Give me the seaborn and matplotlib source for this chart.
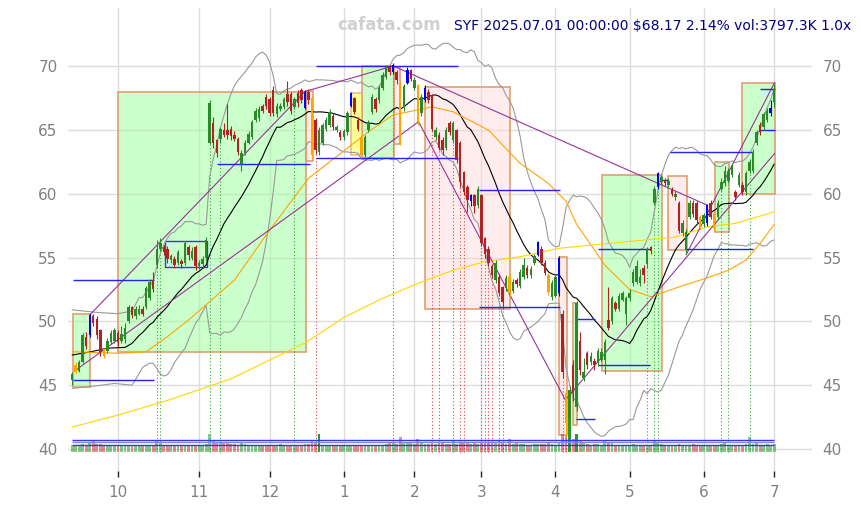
import numpy as np
import pandas as pd
import matplotlib
matplotlib.use("Agg")
import matplotlib.pyplot as plt
import seaborn as sns
from matplotlib.patches import Rectangle

# trading days shown
holidays = ["2024-11-28", "2024-12-25", "2025-01-01", "2025-01-09", "2025-01-20",
            "2025-02-17", "2025-04-18", "2025-05-26", "2025-06-19"]
dates = pd.bdate_range("2024-09-12", "2025-07-01", freq="C", holidays=holidays)

opens = [45.4, 46.0, 46.1, 46.8, 48.8, 48.9, 50.4, 50.2, 49.3, 47.8,
         47.7, 48.4, 48.5, 49.1, 48.5, 48.6, 50.0, 51.1, 50.4, 50.6,
         51.0, 51.1, 51.8, 53.2, 54.4, 55.7, 55.8, 55.7, 54.8, 54.9,
         54.6, 54.7, 54.6, 55.8, 55.0, 55.8, 54.3, 54.5, 55.0, 64.0,
         65.5, 64.2, 64.3, 65.0, 65.0, 65.1, 64.6, 64.3, 62.3, 63.2,
         64.0, 64.4, 65.8, 65.9, 66.9, 67.6, 67.4, 68.1, 66.2, 66.6,
         66.8, 67.8, 67.8, 66.8, 67.9, 68.1, 66.7, 68.0, 67.5, 65.8,
         63.3, 64.0, 65.1, 65.4, 66.1, 65.0, 64.8, 64.4, 64.8, 66.9,
         67.5, 65.8, 64.4, 63.0, 65.0, 66.4, 67.4, 67.3, 68.3, 69.1,
         69.9, 69.5, 69.5, 68.7, 66.7, 68.7, 69.7, 68.3, 68.5, 66.3,
         67.3, 68.0, 67.7, 64.4, 64.6, 64.2, 63.6, 65.5, 64.2, 65.0,
         64.0, 61.7, 60.5, 59.4, 59.9, 59.1, 59.9, 56.5, 55.7, 54.3,
         53.2, 53.5, 52.7, 52.6, 53.5, 52.4, 53.2, 52.8, 53.5, 54.2,
         53.6, 54.6, 55.2, 55.7, 54.6, 53.6, 51.9, 52.0, 52.2, 50.6,
         44.4, 40.8, 46.6, 43.3, 48.5, 45.6, 47.5, 46.8, 46.9, 46.7,
         47.0, 47.0, 50.1, 50.0, 51.4, 51.0, 51.7, 50.6, 51.8, 53.0,
         53.1, 53.0, 54.2, 54.5, 55.8, 59.3, 60.5, 60.9, 61.1, 60.7,
         60.3, 59.7, 59.3, 56.9, 55.6, 58.2, 59.3, 59.3, 58.2, 57.6,
         57.7, 59.3, 58.5, 58.2, 60.4, 60.8, 61.0, 61.5, 60.1, 60.7,
         60.7, 60.1, 61.8, 61.8, 64.0, 65.4, 65.2, 65.8, 66.3, 67.2]
closes = [45.9, 46.6, 46.8, 48.9, 48.1, 50.5, 49.9, 48.9, 47.6, 47.3,
          48.5, 49.1, 49.3, 48.4, 49.0, 49.5, 51.1, 50.5, 51.0, 51.0,
          50.6, 52.6, 53.1, 52.5, 55.7, 56.1, 55.4, 54.9, 55.1, 54.4,
          55.4, 54.5, 56.1, 55.2, 55.5, 54.3, 54.6, 54.9, 56.4, 67.1,
          64.0, 63.2, 65.1, 64.6, 64.6, 64.5, 64.3, 63.3, 63.2, 64.0,
          64.7, 65.6, 66.5, 66.6, 66.5, 66.9, 66.3, 66.3, 66.9, 66.9,
          67.4, 67.2, 66.5, 67.4, 67.1, 67.3, 68.0, 67.3, 63.0, 63.4,
          65.0, 65.4, 65.8, 66.4, 65.2, 65.2, 64.4, 64.9, 66.3, 67.9,
          66.4, 65.1, 63.0, 64.4, 65.6, 67.6, 66.6, 68.3, 69.3, 69.9,
          69.5, 70.1, 68.9, 64.0, 68.4, 69.7, 69.0, 68.9, 65.6, 67.6,
          68.3, 67.3, 65.1, 65.0, 63.6, 63.4, 65.0, 64.8, 65.5, 62.6,
          60.9, 60.1, 59.5, 59.9, 59.0, 60.4, 56.1, 55.3, 54.6, 53.6,
          54.6, 52.2, 51.5, 53.4, 52.2, 53.1, 52.9, 53.9, 54.4, 53.6,
          54.1, 55.1, 56.2, 54.6, 53.8, 52.3, 53.0, 53.5, 55.0, 46.0,
          42.0, 44.6, 44.4, 51.4, 46.2, 46.0, 46.6, 47.3, 46.6, 47.7,
          47.6, 48.4, 49.5, 51.8, 51.0, 52.0, 52.2, 51.8, 52.2, 53.9,
          54.3, 53.5, 53.6, 55.6, 55.5, 60.4, 61.6, 61.3, 60.8, 61.0,
          60.0, 60.0, 57.1, 57.7, 57.0, 59.3, 58.4, 57.9, 57.4, 58.3,
          59.1, 58.2, 57.3, 59.3, 60.9, 61.8, 61.8, 62.1, 59.7, 61.5,
          60.1, 61.6, 62.5, 63.3, 64.8, 64.8, 66.2, 66.5, 66.74, 68.17]
highs = [46.0, 46.8, 47.0, 49.1, 49.2, 50.6, 50.6, 50.4, 49.4, 47.9,
         48.7, 49.3, 49.5, 49.3, 49.6, 49.9, 51.3, 51.2, 51.2, 51.3,
         51.2, 52.8, 53.3, 53.9, 56.4, 56.5, 56.0, 55.9, 55.3, 55.1,
         55.6, 54.9, 56.3, 56.0, 55.8, 56.0, 54.8, 55.1, 56.6, 67.3,
         66.0, 64.3, 65.2, 65.5, 67.0, 65.3, 64.9, 64.4, 63.4, 64.2,
         64.9, 65.8, 66.7, 66.9, 67.0, 67.8, 67.6, 68.4, 67.1, 67.1,
         67.6, 68.8, 68.0, 67.6, 68.1, 68.3, 68.1, 68.2, 67.6, 65.9,
         65.2, 65.5, 66.0, 66.6, 66.3, 65.4, 65.0, 65.1, 66.5, 68.0,
         67.6, 66.0, 64.6, 64.6, 65.8, 67.8, 67.6, 68.5, 69.5, 70.1,
         70.1, 70.2, 69.7, 68.8, 68.6, 69.9, 69.8, 69.1, 68.6, 67.8,
         68.5, 68.2, 67.8, 65.2, 64.8, 64.4, 65.2, 65.7, 65.7, 65.1,
         64.1, 61.8, 60.7, 60.0, 60.0, 60.6, 60.0, 56.6, 55.9, 54.5,
         54.8, 53.7, 52.8, 53.6, 53.7, 53.3, 53.4, 54.1, 55.0, 54.4,
         54.3, 55.3, 56.3, 55.9, 54.8, 53.8, 53.2, 53.7, 55.1, 50.9,
         44.6, 44.9, 47.0, 51.6, 49.2, 47.1, 47.7, 47.6, 47.1, 47.9,
         47.9, 48.6, 52.7, 52.0, 51.6, 52.2, 52.4, 52.0, 52.5, 54.1,
         54.8, 54.1, 54.4, 55.8, 55.9, 60.6, 61.7, 61.5, 61.2, 61.2,
         60.5, 60.2, 59.4, 57.9, 57.2, 59.5, 59.5, 59.4, 58.3, 58.5,
         59.2, 59.5, 58.6, 59.5, 61.2, 62.2, 62.0, 62.4, 60.3, 61.7,
         60.9, 61.8, 62.7, 63.5, 65.0, 65.6, 66.4, 66.7, 67.3, 68.6]
lows = [45.0, 45.9, 46.0, 46.7, 47.8, 48.8, 49.6, 48.6, 47.3, 47.1,
        47.5, 48.2, 48.3, 48.1, 48.3, 48.3, 49.9, 50.3, 50.2, 50.5,
        50.4, 51.0, 51.7, 52.3, 54.2, 55.5, 55.2, 54.6, 54.6, 54.2,
        54.4, 54.2, 54.4, 54.8, 54.8, 54.0, 54.1, 54.2, 54.6, 63.9,
        63.6, 62.9, 64.0, 64.4, 64.3, 64.2, 64.1, 63.0, 61.8, 63.0,
        63.9, 64.3, 65.6, 65.7, 66.3, 66.6, 66.1, 66.1, 66.0, 66.5,
        66.6, 66.9, 66.2, 66.6, 66.8, 67.1, 66.6, 67.0, 62.8, 63.1,
        63.0, 63.8, 64.9, 65.2, 65.0, 64.8, 64.2, 64.2, 64.6, 66.8,
        66.2, 64.9, 62.8, 62.7, 64.8, 66.2, 66.4, 67.1, 68.1, 69.0,
        69.3, 69.4, 68.6, 63.8, 66.5, 68.6, 68.8, 68.1, 65.4, 66.1,
        67.2, 67.1, 64.9, 64.2, 63.4, 63.0, 63.4, 64.6, 64.0, 62.4,
        60.5, 59.9, 58.6, 59.0, 58.5, 58.9, 55.9, 55.0, 54.3, 53.4,
        53.0, 52.0, 51.0, 52.4, 52.0, 52.2, 52.7, 52.6, 53.3, 53.4,
        53.4, 54.4, 55.1, 54.4, 53.6, 52.1, 51.7, 51.9, 52.0, 45.6,
        41.0, 40.2, 43.8, 43.0, 45.8, 45.3, 46.3, 46.6, 46.2, 46.5,
        46.8, 45.9, 49.3, 49.8, 50.8, 50.8, 51.6, 49.7, 51.6, 52.8,
        52.9, 52.8, 53.0, 54.2, 55.3, 59.1, 60.4, 60.7, 60.6, 60.5,
        59.8, 59.5, 56.9, 56.7, 55.3, 58.0, 58.2, 57.7, 57.2, 57.4,
        57.5, 58.0, 57.1, 58.0, 60.2, 60.6, 60.8, 61.3, 59.5, 60.5,
        59.9, 59.9, 61.6, 61.6, 63.8, 64.6, 65.0, 65.6, 66.1, 66.8]
volumes = [3400, 3100, 3300, 3600, 3500, 4300, 6000, 3900, 3700, 3200,
           3000, 2900, 2800, 3100, 2900, 3000, 3400, 3000, 2800, 2900,
           3200, 3100, 2900, 3000, 5300, 4200, 3400, 3200, 2900, 3100,
           2800, 3200, 3500, 3000, 3300, 3400, 3100, 2900, 3600, 8500,
           5600, 4500, 4400, 4900, 4400, 4000, 3600, 3500, 4500, 3600,
           3300, 3400, 3100, 3200, 3400, 3500, 3300, 3100, 3000, 3600,
           3200, 3300, 3400, 3000, 3100, 3300, 3600, 3700, 5200, 4600,
           8700, 3300, 2800, 2900, 3100, 2800, 2900, 3200, 3000, 3300,
           3300, 3400, 3500, 3100, 3000, 3400, 3300, 3100, 3200, 3700,
           4100, 4400, 4000, 7000, 5000, 4300, 4100, 3600, 6200, 4200,
           3900, 3600, 4700, 4000, 4900, 4300, 3800, 3600, 5400, 4000,
           4600, 4200, 4100, 3800, 4300, 4000, 5000, 4400, 4300, 4600,
           4200, 5700, 4800, 4000, 6200, 4000, 4400, 3900, 3800, 3500,
           3300, 3600, 3900, 3800, 3700, 4400, 3700, 3500, 4300, 8700,
           7500, 16000, 6500, 8700, 5400, 4500, 4000, 3500, 3800, 3600,
           3400, 6000, 4300, 4200, 3400, 3300, 3200, 3100, 3300, 3600,
           3500, 3000, 3100, 3200, 3400, 5200, 4500, 3800, 3500, 3200,
           3300, 3000, 3900, 3500, 3400, 3200, 3600, 3300, 3000, 3100,
           3400, 3200, 3300, 3300, 3600, 4100, 3500, 3200, 3400, 3000,
           3100, 3600, 7300, 3800, 4200, 3400, 3200, 3600, 3300, 3797.3]
heavy_vol = [70, 141, 143]
blue_bars = [5, 66, 79, 91, 95, 100, 113, 132, 138, 166, 180, 198]
orange_bars = [1, 9, 68, 82, 93, 98, 124, 135, 140, 178, 182]

# lines (bar index, price)
ma20_head_idx = [0, 5, 10, 15, 17]
ma20_head = [47.36, 47.6, 47.9, 47.96, 48.28]
bb_up_head_idx = [0, 7, 13, 17]
bb_up_head = [50.9, 50.7, 50.6, 50.8]
bb_dn_head_idx = [0, 7, 12, 17]
bb_dn_head = [44.75, 44.95, 45.14, 45.0]
ma_orange_idx = [0, 13, 21, 27, 33, 46, 56, 67, 84, 91, 102, 108, 118, 127, 135,
                 140, 143, 151, 158, 164, 172, 180, 186, 191, 195, 199]
ma_orange = [47.62, 47.5, 47.62, 48.8, 50.1, 53.23, 57.15, 61.2, 64.85, 66.16, 66.8,
             66.41, 64.98, 62.37, 60.8, 59.4, 57.6, 54.4, 52.5, 51.92, 52.7, 53.4,
             54.0, 54.8, 56.1, 57.6]
ma_yellow_idx = [0, 13, 27, 33, 45, 56, 66, 77, 88, 98, 108, 117, 127, 138, 152,
                 171, 180, 188, 199]
ma_yellow = [41.72, 42.66, 43.8, 44.36, 45.5, 46.97, 48.3, 50.3, 51.8, 52.97, 54.0,
             54.67, 55.06, 55.72, 56.1, 56.6, 57.4, 57.67, 58.58]

# zones: start, end, low, high
green_boxes = [(0.3, 5.2, 44.83, 50.55), (13.1, 66.2, 47.57, 68.0), (82.1, 91.1, 62.8, 70.0),
               (150.2, 167.2, 46.1, 61.5), (182.1, 186.1, 56.97, 62.45),
               (190.0, 199.1, 60.0, 68.7), (142.1, 143.2, 41.9, 51.4)]
pink_boxes = [(66.2, 68.2, 62.57, 68.05), (91.2, 93.0, 63.9, 69.9), (100.1, 124.0, 51.0, 68.37),
              (138.0, 140.2, 41.1, 55.06), (169.0, 174.3, 55.6, 61.4)]
yellow_boxes = [(79.0, 82.1, 63.0, 67.85)]
blue_frames = [(26.2, 38.2, 54.27, 56.3)]
levels = [(0.3, 23.3, 53.2), (0.3, 23.3, 45.38), (41.0, 67.4, 62.3), (69.2, 109.3, 70.0),
          (69.2, 109.3, 62.8), (115.2, 138.3, 60.3), (115.2, 138.3, 51.1),
          (149.0, 163.8, 55.7), (149.0, 163.8, 46.6), (142.9, 148.1, 50.16),
          (142.9, 148.1, 42.35), (167.0, 169.0, 61.1), (169.5, 193.0, 63.23),
          (174.0, 193.0, 55.63), (195.1, 199.1, 68.17), (195.1, 199.1, 64.96)]
trend_a_idx = [5, 66, 91, 180]
trend_a = [50.5, 68.0, 70.0, 59.1]
trend_b_idx = [1.1, 98.2, 139.8, 199.1]
trend_b = [46.19, 65.63, 43.84, 63.15]
trend_c_idx = [174, 199.1]
trend_c = [55.2, 68.7]
green_marks = [24, 25, 39, 42, 63, 91, 163, 165, 166, 184, 186, 192]
red_marks = [69, 102, 104, 108, 110, 111, 116, 117, 118, 119, 121, 122, 139, 140]
vol_levels = [5760, 4630, 3300]

GREEN, RED = "#2a8a2a", "#b22222"

opens, closes = np.array(opens), np.array(closes)
highs, lows = np.array(highs), np.array(lows)
x = np.arange(len(dates))

sns.set_style("whitegrid")
fig = plt.figure(figsize=(8.61, 5.05), dpi=100)
ax = fig.add_axes([68 / 861, 34 / 505, 744 / 861, 463 / 505])
ax.set_xlim(-1.16, 209.7)
ax.set_ylim(38.28, 74.54)
ax.grid(True, color="#dddddd", linewidth=1)
for s in ax.spines.values():
    s.set_visible(False)

# zones
for x0, x1, lo, hi in green_boxes:
    ax.add_patch(Rectangle((x0, lo), x1 - x0, hi - lo, facecolor="#99ff99", alpha=0.5,
                           edgecolor="none", zorder=1))
    ax.add_patch(Rectangle((x0, lo), x1 - x0, hi - lo, facecolor="none",
                           edgecolor="#e0a070", linewidth=1.2, zorder=1.1))
for x0, x1, lo, hi in pink_boxes:
    ax.add_patch(Rectangle((x0, lo), x1 - x0, hi - lo, facecolor="#ffd8d8", alpha=0.45,
                           edgecolor="none", zorder=1))
    ax.add_patch(Rectangle((x0, lo), x1 - x0, hi - lo, facecolor="none",
                           edgecolor="#e0a070", linewidth=1.2, zorder=1.1))
for x0, x1, lo, hi in yellow_boxes:
    ax.add_patch(Rectangle((x0, lo), x1 - x0, hi - lo, facecolor="#ffff66", alpha=0.7,
                           edgecolor="#e0a070", linewidth=1.2, zorder=1.1))
for x0, x1, lo, hi in blue_frames:
    ax.add_patch(Rectangle((x0, lo), x1 - x0, hi - lo, facecolor="none",
                           edgecolor="#3333ff", linewidth=1, zorder=2))

# signal marks
ax.vlines(green_marks, 39.8, lows[green_marks], colors="#33aa33", linestyles=(0, (1, 2)),
          linewidth=0.8, zorder=2)
ax.vlines(red_marks, 39.8, lows[red_marks], colors="#dd4444", linestyles=(0, (1, 2)),
          linewidth=0.8, zorder=2)

# moving averages and bands
cl = pd.Series(closes)
ma20 = cl.rolling(20).mean()
sd20 = cl.rolling(20).std(ddof=0)
tail = x >= 19
sns.lineplot(x=list(ma20_head_idx) + list(x[tail]), y=list(ma20_head) + list(ma20[tail]),
             ax=ax, color="black", linewidth=0.8, zorder=3)
sns.lineplot(x=list(bb_up_head_idx) + list(x[tail]),
             y=list(bb_up_head) + list((ma20 + 2 * sd20)[tail]),
             ax=ax, color="#999999", linewidth=0.8, zorder=3)
sns.lineplot(x=list(bb_dn_head_idx) + list(x[tail]),
             y=list(bb_dn_head) + list((ma20 - 2 * sd20)[tail]),
             ax=ax, color="#999999", linewidth=0.8, zorder=3)
sns.lineplot(x=ma_orange_idx, y=ma_orange, ax=ax, color="#ffa500", linewidth=0.8, zorder=3)
sns.lineplot(x=ma_yellow_idx, y=ma_yellow, ax=ax, color="#ffd700", linewidth=0.8, zorder=3)

# trend lines and levels
for tx, ty in [(trend_a_idx, trend_a), (trend_b_idx, trend_b), (trend_c_idx, trend_c)]:
    ax.plot(tx, ty, color="#993399", linewidth=0.8, zorder=3)
for x0, x1, p in levels:
    ax.hlines(p, x0, x1, colors="#2222ff", linewidth=1, zorder=3)

# candles
cols = np.where(closes >= opens, GREEN, RED).astype(object)
cols[blue_bars] = "#0000ff"
cols[orange_bars] = "#ffa500"
ax.vlines(x, lows, highs, colors=list(cols), linewidth=0.8, zorder=4)
ax.bar(x, np.maximum(np.abs(closes - opens), 0.06), bottom=np.minimum(opens, closes),
       width=0.7, color=list(cols), linewidth=0, zorder=5)

# volume
ax2 = ax.twinx()
ax2.set_ylim(-19.3 / 0.00203, (463 - 19.3) / 0.00203)
ax2.grid(False)
ax2.set_yticks([])
for s in ax2.spines.values():
    s.set_visible(False)
vcols = np.where(closes >= opens, "#2a9a2a", "#cc3333")
valpha = np.full(len(x), 0.55)
valpha[heavy_vol] = 1.0
ax2.bar(x, volumes, width=0.8, color=list(vcols), linewidth=0)
for patch, a in zip(ax2.patches, valpha):
    patch.set_alpha(a)
ax2.hlines(vol_levels, 0, 199, colors=["#3333ff", "#8888cc", "#3333ff"], linewidth=1)

# axes text
month_starts = [i for i in range(1, len(dates)) if dates[i].month != dates[i - 1].month]
ax.set_xticks(month_starts)
ax.set_xticklabels([str(dates[i].month) for i in month_starts])
ax.set_yticks([40, 45, 50, 55, 60, 65, 70])
ax.tick_params(axis="x", colors="#222222", labelcolor="#808080", length=4, width=1,
               labelsize=11, bottom=True, pad=6)
ax.tick_params(axis="y", labelcolor="#808080", labelsize=11, left=False, right=False,
               labelleft=True, labelright=True, pad=4)

fig.text(389 / 861, 1 - 25 / 505, "cafata.com", color="#d0d0d0", fontsize=12,
         fontweight="bold", ha="center", va="center")
fig.text(851 / 861, 1 - 26 / 505, "SYF 2025.07.01 00:00:00 $68.17 2.14% vol:3797.3K 1.0x",
         color="#000080", fontsize=10, ha="right", va="center")

fig.savefig("out.png", dpi=100)
